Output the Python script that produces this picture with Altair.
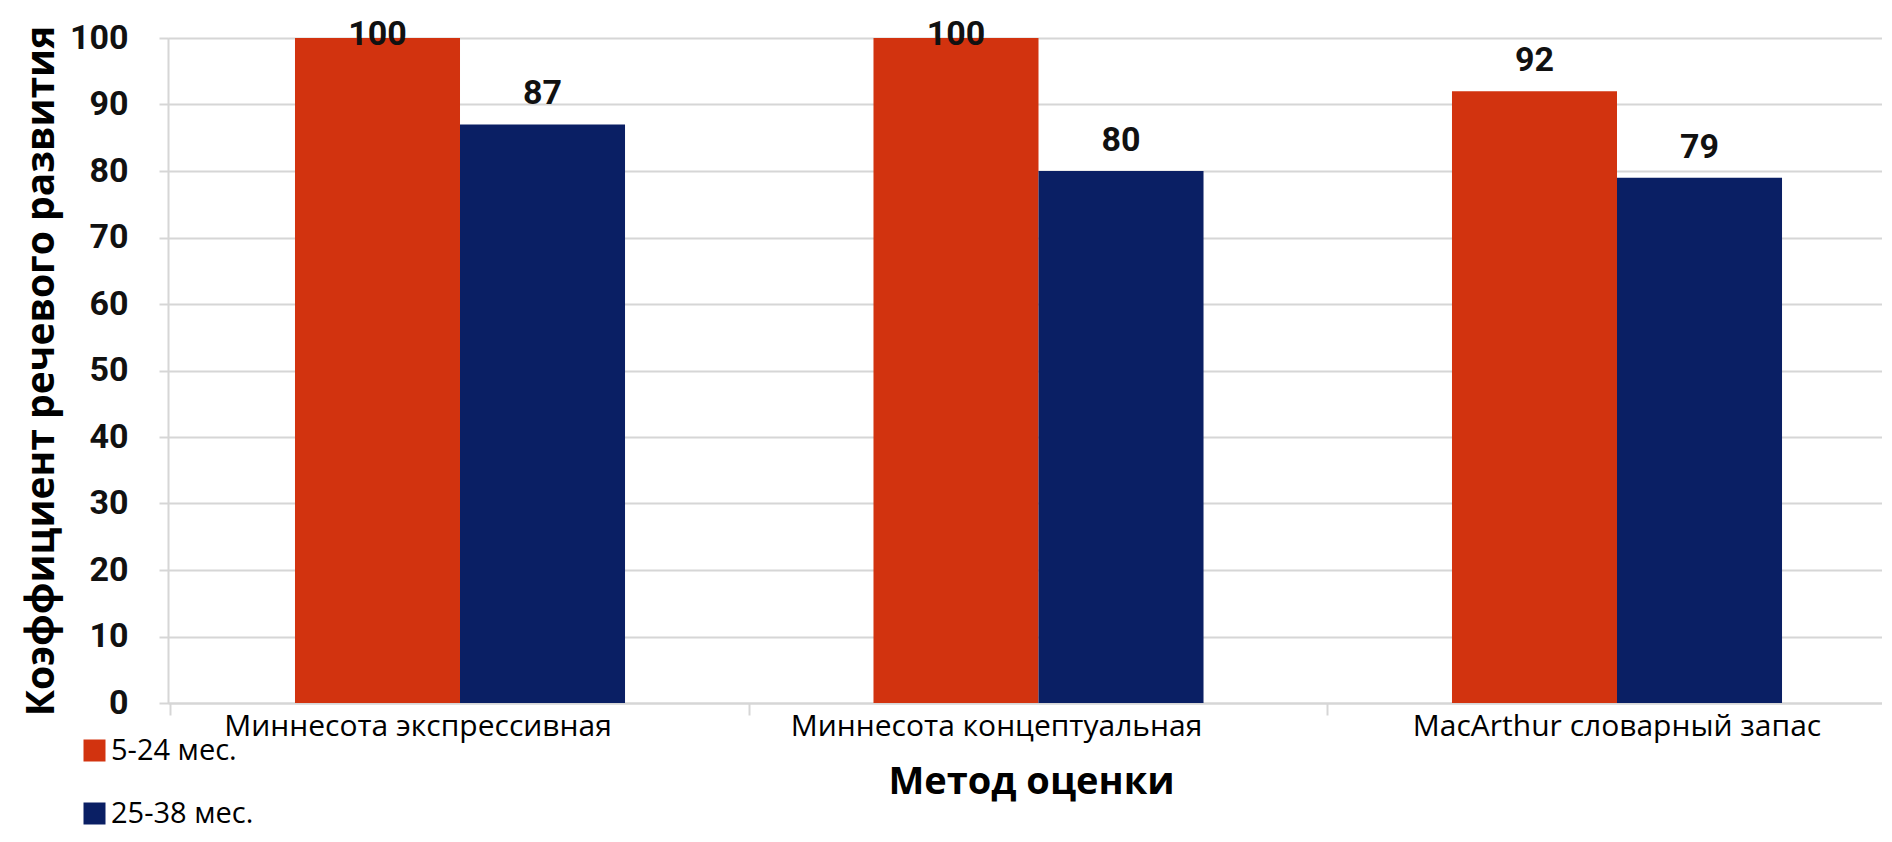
import altair as alt
import pandas as pd

methods = ["Миннесота экспрессивная", "Миннесота концептуальная", "MacArthur словарный запас"]
groups = ["5-24 мес.", "25-38 мес."]
values_young = [100, 100, 92]
values_old = [87, 80, 79]
y_ticks = [0, 10, 20, 30, 40, 50, 60, 70, 80, 90, 100]

rows = []
for m, a, b in zip(methods, values_young, values_old):
    rows.append({"method": m, "group": groups[0], "value": a})
    rows.append({"method": m, "group": groups[1], "value": b})
df = pd.DataFrame(rows)

RED = "#D2330F"
BLUE = "#0A1F64"
GRID = "#D6D6D6"

x_enc = alt.X(
    "method:N",
    sort=methods,
    title="Метод оценки",
    scale=alt.Scale(paddingInner=0.4295, paddingOuter=0.19617, align=0.5595),
    axis=alt.Axis(
        labelAngle=0,
        labelFont="Open Sans",
        labelFontSize=30,
        labelColor="#000000",
        labelBaseline="alphabetic",
        labelPadding=20,
        labelLimit=0,
        bandPosition=-0.3765,
        labelOffset={"condition": {"test": "datum.value == 'MacArthur словарный запас'", "value": 0}, "value": -42},
        ticks=True,
        tickSize=12,
        tickColor=GRID,
        tickWidth=2,
        domainColor=GRID,
        domainWidth=2,
        grid=False,
        titleFont="Open Sans",
        titleFontSize=38,
        titleFontWeight="bold",
        titleColor="#000000",
        titleX=863,
        titleY=90,
        titleAlign="center",
        titleBaseline="alphabetic",
        labelOverlap=False,
    ),
)

bars = alt.Chart(df).mark_bar(stroke=None).encode(
    x=x_enc,
    xOffset=alt.XOffset("group:N", sort=groups),
    y=alt.Y(
        "value:Q",
        scale=alt.Scale(domain=[0, 100], nice=False),
        title="Коэффициент речевого развития",
        axis=alt.Axis(
            values=y_ticks,
            labelFont="Roboto",
            labelFontWeight="bold",
            labelFontSize=34,
            labelColor="#111111",
            labelPadding=31,
            tickSize=9,
            tickColor=GRID,
            tickWidth=2,
            gridColor=GRID,
            gridWidth=2,
            domainColor=GRID,
            domainWidth=2,
            titleFont="Open Sans",
            titleFontSize=39,
            titleFontWeight="bold",
            titleColor="#000000",
            titleX=-115,
            titleBaseline="alphabetic",
        ),
    ),
    color=alt.Color(
        "group:N",
        sort=groups,
        scale=alt.Scale(domain=groups, range=[RED, BLUE]),
        legend=alt.Legend(
            title=None,
            orient="none",
            legendX=-88,
            legendY=698,
            direction="vertical",
            symbolType="square",
            symbolSize=484,
            symbolStrokeWidth=0,
            labelFont="Open Sans",
            labelFontSize=29,
            labelColor="#000000",
            labelOffset=2,
            rowPadding=33,
        ),
    ),
)

labels = alt.Chart(df).transform_calculate(
    label_y="min(datum.value, 96)"
).mark_text(
    font="Roboto",
    fontWeight="bold",
    fontSize=34,
    color="#111111",
    baseline="alphabetic",
    dy=-20,
).encode(
    x=alt.X("method:N", sort=methods),
    xOffset=alt.XOffset("group:N", sort=groups),
    y=alt.Y("label_y:Q"),
    text=alt.Text("value:Q"),
)

chart = alt.layer(bars, labels).properties(
    width=1714,
    height=665,
    autosize=alt.AutoSizeParams(type="none"),
    padding={"left": 160, "top": 30, "right": 0, "bottom": 130},
).configure_view(stroke=None).configure(background="#FFFFFF")

chart.save("out.html", embed_options={"renderer": "svg", "actions": False})
